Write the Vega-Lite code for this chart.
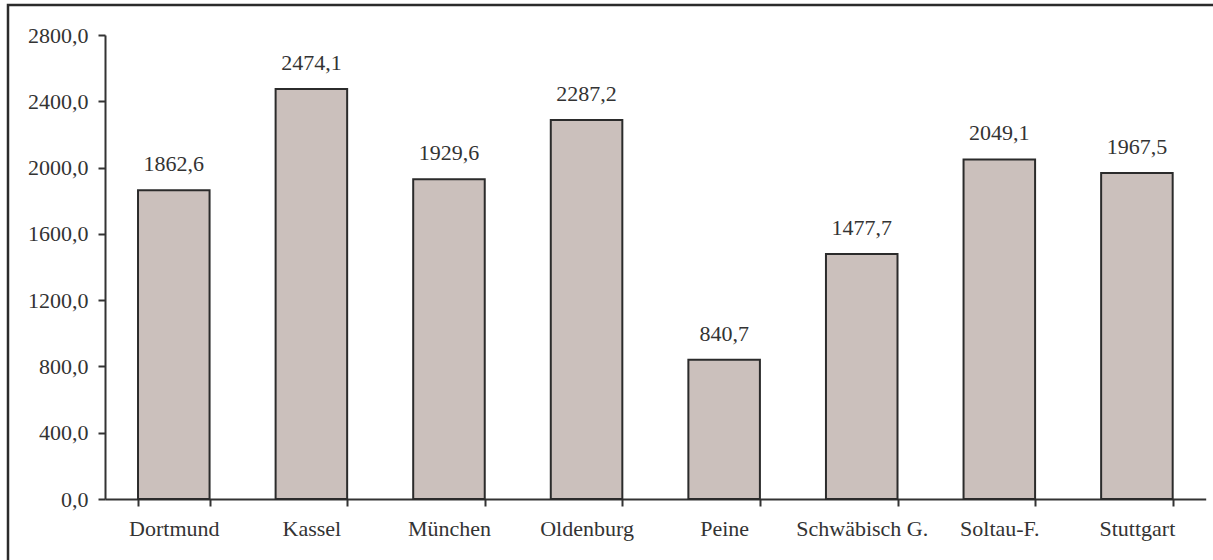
{
  "$schema": "https://vega.github.io/schema/vega-lite/v6.json",
  "autosize": "none",
  "width": 1212,
  "height": 560,
  "padding": {"left": 8, "top": 5, "right": 0, "bottom": 0},
  "background": "white",
  "config": {
    "locale": {"number": {"decimal": ",", "thousands": ".", "grouping": [3], "currency": ["", " €"]}},
    "view": {"stroke": "#2b2b2b", "strokeWidth": 2.5},
    "font": "'Liberation Serif', 'DejaVu Serif', serif",
    "axis": {
      "labelFont": "'Liberation Serif', 'DejaVu Serif', serif",
      "labelFontSize": 22,
      "labelColor": "#333333",
      "domainColor": "#333333",
      "domainWidth": 2,
      "tickColor": "#333333",
      "tickWidth": 2,
      "grid": false,
      "title": null
    }
  },
  "data": {
    "values": [
      {"stadt": "Dortmund", "wert": 1862.6},
      {"stadt": "Kassel", "wert": 2474.1},
      {"stadt": "München", "wert": 1929.6},
      {"stadt": "Oldenburg", "wert": 2287.2},
      {"stadt": "Peine", "wert": 840.7},
      {"stadt": "Schwäbisch G.", "wert": 1477.7},
      {"stadt": "Soltau-F.", "wert": 2049.1},
      {"stadt": "Stuttgart", "wert": 1967.5}
    ]
  },
  "encoding": {
    "x": {
      "field": "stadt",
      "type": "nominal",
      "sort": null,
      "scale": {"range": [97, 1197.7], "paddingInner": 0.48, "paddingOuter": 0.24},
      "axis": {
        "offset": -66,
        "labelAngle": 0,
        "tickBand": "extent",
        "tickSize": 7,
        "labelPadding": 12,
        "labelBaseline": "top"
      }
    },
    "y": {
      "field": "wert",
      "type": "quantitative",
      "scale": {"domain": [0, 2800], "range": [494, 30], "nice": false},
      "axis": {
        "offset": -97,
        "values": [0, 400, 800, 1200, 1600, 2000, 2400, 2800],
        "format": ".1f",
        "tickSize": 7,
        "labelPadding": 10
      }
    }
  },
  "layer": [
    {
      "mark": {"type": "bar", "fill": "#cbc0bc", "stroke": "#2b2b2b", "strokeWidth": 2}
    },
    {
      "mark": {"type": "text", "baseline": "alphabetic", "dy": -19, "fontSize": 22, "color": "#333333", "font": "'Liberation Serif', 'DejaVu Serif', serif"},
      "encoding": {"text": {"field": "wert", "type": "quantitative", "format": ".1f"}}
    }
  ]
}
